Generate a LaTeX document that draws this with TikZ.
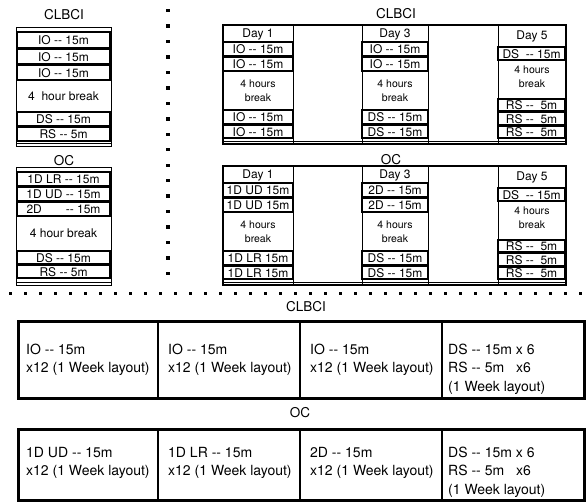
\documentclass[tikz,border=0pt]{standalone}
\usepackage{fontspec}
\setmainfont{TeX Gyre Heros}[Ligatures=TeXOff]
\usetikzlibrary{calc}

\tikzset{
  thinbox/.style={draw=black,line width=0.8pt},
  framebox/.style={draw=black,line width=1.6pt},
  slotbox/.style={draw=black,line width=1.7pt},
  heavybox/.style={draw=black,line width=3pt},
  divline/.style={draw=black,line width=1.4pt},
  slottext/.style={inner sep=0pt,font=\fontsize{12}{14}\selectfont,text height=8.6pt,text depth=0pt},
  breaktext/.style={inner sep=0pt,align=center,font=\fontsize{10.5}{14}\selectfont},
  headtext/.style={inner sep=0pt,font=\fontsize{13.5}{16}\selectfont},
  celltext/.style={anchor=north west,inner sep=0pt,align=left,font=\fontsize{14}{18.2}\selectfont},
  dotsq/.style={fill=black},
}

% one slot: name, x1, y1, x2, y2, text
\newcommand{\slotat}[6]{%
  \draw[slotbox] (#2,#3) rectangle (#4,#5);
  \node[slottext] (#1) at ({(#2+#4)/2},{(#3+#5)/2+0.5}) {#6};}

% frame of a three-day schedule: top
\newcommand{\schedframe}[1]{%
  \draw[framebox] (223,#1) rectangle (566,#1+119);
  \foreach \xd in {293,362,428,498} \draw[thinbox] (\xd,#1) -- (\xd,#1+119);
  \draw[thinbox] (223,#1+116) -- (566,#1+116);}

% day 1 / day 3 column: prefix, top, x1, x2, day, r1, r2, r3, r4
\newcommand{\daycol}[9]{%
  \node[slottext] (#1-day) at ({(#3+#4)/2},#2+8.5) {#5};
  \slotat{#1-r1}{#3}{#2+17}{#4}{#2+31}{#6}
  \slotat{#1-r2}{#3}{#2+32}{#4}{#2+46}{#7}
  \node[breaktext] (#1-brk) at ({(#3+#4)/2},#2+65.5) {4 hours\\break};
  \slotat{#1-r3}{#3}{#2+85}{#4}{#2+99}{#8}
  \slotat{#1-r4}{#3}{#2+100}{#4}{#2+113}{#9}}

% day 5 column: prefix, top
\newcommand{\dayfive}[2]{%
  \node[slottext] (#1-day) at (532,#2+10.5) {Day 5};
  \slotat{#1-ds}{498}{#2+22}{565}{#2+35}{DS \ -- 15m}
  \node[breaktext] (#1-brk) at (532,#2+52) {4 hours\\break};
  \slotat{#1-rs1}{498}{#2+74}{565}{#2+86}{RS -- \ 5m}
  \slotat{#1-rs2}{498}{#2+87}{565}{#2+100}{RS -- \ 5m}
  \slotat{#1-rs3}{498}{#2+101}{565}{#2+113}{RS -- \ 5m}}

\begin{document}
\begin{tikzpicture}[x=1pt,y=-1pt]
  \useasboundingbox (0,0) rectangle (588,501);

  % single day, CLBCI
  \node[headtext] (cl-title) at (64,14.5) {CLBCI};
  \draw[thinbox] (16,27) rectangle (111,146);
  \draw[thinbox] (16,143) -- (111,143);
  \slotat{cl-io1}{17}{32}{110}{48}{IO -- 15m}
  \slotat{cl-io2}{17}{49}{110}{64}{IO -- 15m}
  \slotat{cl-io3}{17}{65}{110}{80}{IO -- 15m}
  \node[slottext] (cl-brk) at (63.5,96) {4\ \ hour break};
  \slotat{cl-ds}{17}{112}{110}{126}{DS -- 15m}
  \slotat{cl-rs}{17}{127}{110}{141}{RS -- 5m}

  % single day, OC
  \node[headtext] (oc-title) at (64,161) {OC};
  \draw[thinbox] (16,167) rectangle (111,285);
  \draw[thinbox] (16,282) -- (111,282);
  \slotat{oc-lr}{17}{172}{110}{186}{1D LR -- 15m}
  \slotat{oc-ud}{17}{187}{110}{201}{1D UD -- 15m}
  \slotat{oc-2d}{17}{202}{110}{216}{\makebox[74pt]{2D\hfill-- 15m}}
  \node[slottext] (oc-brk) at (63.5,233.5) {4 hour break};
  \slotat{oc-ds}{17}{251}{110}{264}{DS -- 15m}
  \slotat{oc-rs}{17}{265}{110}{278}{RS -- 5m}

  % dotted separators
  \foreach \i in {0,...,17} \fill[dotsq] (166.3,{9+\i*15.45}) rectangle ++(3.4,3.4);
  \foreach \i in {0,...,38} \fill[dotsq] ({8.5+\i*15},291.5) rectangle ++(3.2,3.2);

  % three days, CLBCI
  \node[headtext] (cw-title) at (396,14) {CLBCI};
  \schedframe{25}
  \daycol{cw1}{25}{223}{293}{Day 1}{IO -- 15m}{IO -- 15m}{IO -- 15m}{IO -- 15m}
  \daycol{cw3}{25}{362}{428}{Day 3}{IO -- 15m}{IO -- 15m}{DS -- 15m}{DS -- 15m}
  \dayfive{cw5}{25}

  % three days, OC
  \node[headtext] (ow-title) at (391,160) {OC};
  \schedframe{166}
  \daycol{ow1}{166}{223}{293}{Day 1}{1D UD 15m}{1D UD 15m}{1D LR 15m}{1D LR 15m}
  \daycol{ow3}{166}{362}{428}{Day 3}{2D -- 15m}{2D -- 15m}{DS -- 15m}{DS -- 15m}
  \dayfive{ow5}{166}

  % week layout, CLBCI
  \node[headtext] (cb-title) at (306,307) {CLBCI};
  \draw[heavybox] (18,321) rectangle (584,398);
  \foreach \xd in {158,300,442} \draw[divline] (\xd,321) -- (\xd,398);
  \node[celltext] (cb-c1) at (26,344) {IO -- 15m\\x12 (1 Week layout)};
  \node[celltext] (cb-c2) at (168,344) {IO -- 15m\\x12 (1 Week layout)};
  \node[celltext] (cb-c3) at (310,344) {IO -- 15m\\x12 (1 Week layout)};
  \node[celltext] (cb-c4) at (448,344) {DS -- 15m x 6\\RS -- 5m\hspace{8pt} x6\\(1 Week layout)};

  % week layout, OC
  \node[headtext] (ob-title) at (300,413) {OC};
  \draw[heavybox] (18,429) rectangle (584,500);
  \foreach \xd in {158,300,442} \draw[divline] (\xd,429) -- (\xd,500);
  \node[celltext] (ob-c1) at (26,447) {1D UD -- 15m\\x12 (1 Week layout)};
  \node[celltext] (ob-c2) at (168,447) {1D LR -- 15m\\x12 (1 Week layout)};
  \node[celltext] (ob-c3) at (310,447) {2D -- 15m\\x12 (1 Week layout)};
  \node[celltext] (ob-c4) at (448,447) {DS -- 15m x 6\\RS -- 5m\hspace{8pt} x6\\(1 Week layout)};
\end{tikzpicture}
\end{document}
